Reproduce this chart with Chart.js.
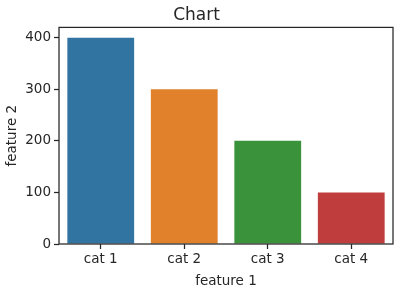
<!DOCTYPE html>
<html>
<head>
<meta charset="utf-8">
<script src="https://cdn.jsdelivr.net/npm/chart.js@4"></script>
<style>
  html, body { margin: 0; padding: 0; background: #fff; }
  #wrap { width: 400px; height: 290px; }
</style>
</head>
<body>
<div id="wrap"><canvas id="myChart" width="400" height="290"></canvas></div>
<script>
const categories = ['cat 1', 'cat 2', 'cat 3', 'cat 4'];
const values = [400, 300, 200, 100];
const barColors = ['#3274a1', '#e1812c', '#3a923a', '#c03d3e'];
const yTicks = [0, 100, 200, 300, 400];

const ink = '#262626';
const font = 'DejaVu Sans';

// draws the box around the plot area, like matplotlib spines
const frame = {
  id: 'frame',
  afterDatasetsDraw(chart) {
    const a = chart.chartArea;
    const c = chart.ctx;
    c.save();
    c.strokeStyle = ink;
    c.lineWidth = 1.25;
    c.strokeRect(a.left, a.top, a.right - a.left, a.bottom - a.top);
    c.restore();
  }
};

var ctx = document.getElementById('myChart').getContext('2d');

var myChart = new Chart(ctx, {
  type: 'bar',
  data: {
    labels: categories,
    datasets: [{
      data: values,
      backgroundColor: barColors,
      borderWidth: 0,
      categoryPercentage: 1,
      barPercentage: 0.8
    }]
  },
  options: {
    responsive: false,
    animation: false,
    layout: { padding: { left: 0, right: 7, top: 0, bottom: 0 } },
    plugins: {
      legend: { display: false },
      tooltip: { enabled: false },
      title: {
        display: true,
        text: 'Chart',
        color: ink,
        font: { family: font, size: 17, weight: 'normal' },
        padding: { top: 5, bottom: 2 }
      }
    },
    scales: {
      x: {
        grid: { display: true, drawOnChartArea: false, offset: false, tickLength: 5, tickColor: ink, tickWidth: 1.25 },
        border: { display: false },
        ticks: { color: ink, font: { family: font, size: 13.5 }, padding: 2 },
        title: { display: true, text: 'feature 1', color: ink, font: { family: font, size: 13.5 }, padding: { top: 5, bottom: 0 } },
        afterFit(scale) { scale.height = 46; }
      },
      y: {
        min: 0,
        max: 420,
        grid: { display: true, drawOnChartArea: false, tickLength: 5, tickColor: ink, tickWidth: 1.25 },
        border: { display: false },
        ticks: { color: ink, font: { family: font, size: 13.5 }, padding: 3 },
        afterBuildTicks(scale) { scale.ticks = yTicks.map(v => ({ value: v })); },
        title: { display: true, text: 'feature 2', color: ink, font: { family: font, size: 13.5 }, padding: { top: 4, bottom: 0 } },
        afterFit(scale) { scale.width = 59; }
      }
    }
  },
  plugins: [frame]
});
</script>
</body>
</html>
